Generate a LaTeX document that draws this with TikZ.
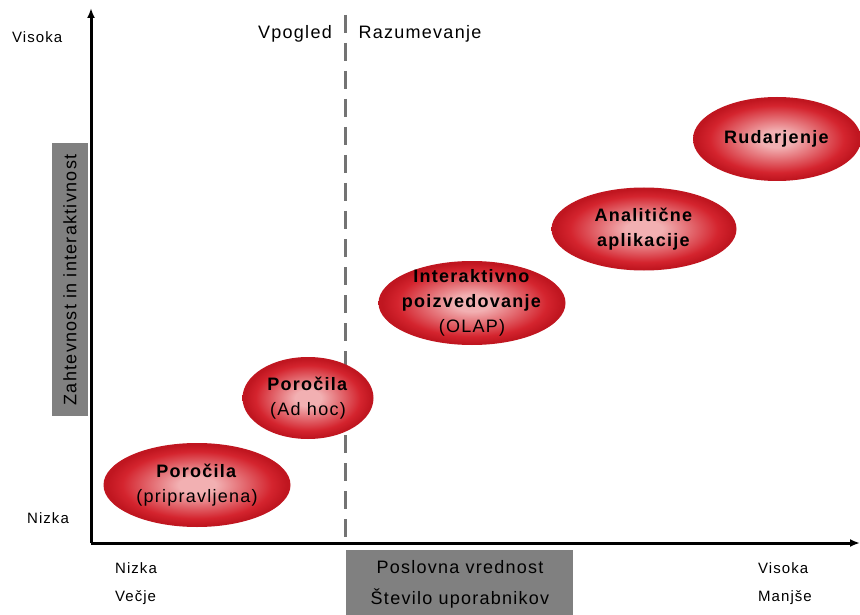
\documentclass[tikz,border=0pt]{standalone}
\usepackage{fontspec}
\setmainfont{Liberation Sans}[LetterSpace=7]
\usetikzlibrary{shapes.geometric,arrows.meta}

\definecolor{pinkc}{RGB}{242,176,178}
\definecolor{redc}{RGB}{212,36,46}
\definecolor{edgec}{RGB}{192,22,32}
\definecolor{boxgray}{RGB}{128,128,128}
\definecolor{dashgray}{RGB}{115,115,115}

% pink core fading into a red rim
\pgfdeclareradialshading{ellshade}{\pgfpoint{0bp}{0bp}}{%
  color(0bp)=(pinkc); color(5bp)=(pinkc); color(20bp)=(redc);
  color(24bp)=(edgec); color(25bp)=(edgec); color(50bp)=(edgec)}

\begin{document}
\begin{tikzpicture}[x=1pt,y=-1pt,
  blob/.style={ellipse, draw=none, shading=ellshade, inner sep=0pt},
  blobtext/.style={align=center, inner sep=0pt, text=black,
    font=\fontsize{18}{25}\selectfont},
  axisline/.style={line width=3pt, -{Latex[length=10pt,width=8pt]}},
  graybox/.style={fill=boxgray, draw=none},
  toplabel/.style={inner sep=0pt, font=\fontsize{18}{22}\selectfont},
  cornerlabel/.style={inner sep=0pt, anchor=west, font=\fontsize{15}{18}\selectfont},
  boxlabel/.style={inner sep=0pt, font=\fontsize{18}{22}\selectfont}
]
\fill[white] (0,0) rectangle (860,615);
\useasboundingbox (0,0) rectangle (860,615);

% gray label panels
\fill[graybox] (52,143) rectangle (88,416);
\node[boxlabel, rotate=90] (ylab) at (70,280) {Zahtevnost in interaktivnost};
\fill[graybox] (346,550) rectangle (573,615);
\node[boxlabel] (xlab1) at (460,567) {Poslovna vrednost};
\node[boxlabel] (xlab2) at (460,598) {Število uporabnikov};

% divider between insight and understanding
\coordinate (dtop) at (345,15);
\coordinate (dbot) at (345,537);
\draw[dashgray, line width=3pt, dash pattern=on 18pt off 10pt] (dtop) -- (dbot);
\node[toplabel] (vpog) at (295,34) {Vpogled};
\node[toplabel] (razu) at (420,34) {Razumevanje};

% axes
\coordinate (origin) at (91,543);
\coordinate (ytip) at (91,8);
\coordinate (xtip) at (860,543);
\draw[axisline] (origin) -- (ytip);
\draw[axisline] (origin) -- (xtip);

% axis end labels
\node[cornerlabel] (yhigh) at (12,37) {Visoka};
\node[cornerlabel] (ylow) at (27,518) {Nizka};
\node[cornerlabel] (xlow) at (115,568) {Nizka};
\node[cornerlabel] (xmore) at (115,598) {Večje};
\node[cornerlabel] (xhigh) at (758,568) {Visoka};
\node[cornerlabel] (xless) at (758,598) {Manjše};

% stages
\node[blob, minimum width=187pt, minimum height=84pt] (e1) at (197,485) {};
\node[blobtext] (t1) at (e1.center) {\textbf{Poročila}\\(pripravljena)};

\node[blob, minimum width=131pt, minimum height=82pt] (e2) at (308,398) {};
\node[blobtext] (t2) at (e2.center) {\textbf{Poročila}\\(Ad hoc)};

\node[blob, minimum width=187pt, minimum height=84pt] (e3) at (472,303) {};
\node[blobtext] (t3) at (e3.center) {\textbf{Interaktivno}\\\textbf{poizvedovanje}\\(OLAP)};

\node[blob, minimum width=185pt, minimum height=83pt] (e4) at (644,229) {};
\node[blobtext] (t4) at (e4.center) {\textbf{Analitične}\\\textbf{aplikacije}};

\node[blob, minimum width=168pt, minimum height=84pt] (e5) at (777,139) {};
\node[blobtext] (t5) at (e5.center) {\textbf{Rudarjenje}};
\end{tikzpicture}
\end{document}
